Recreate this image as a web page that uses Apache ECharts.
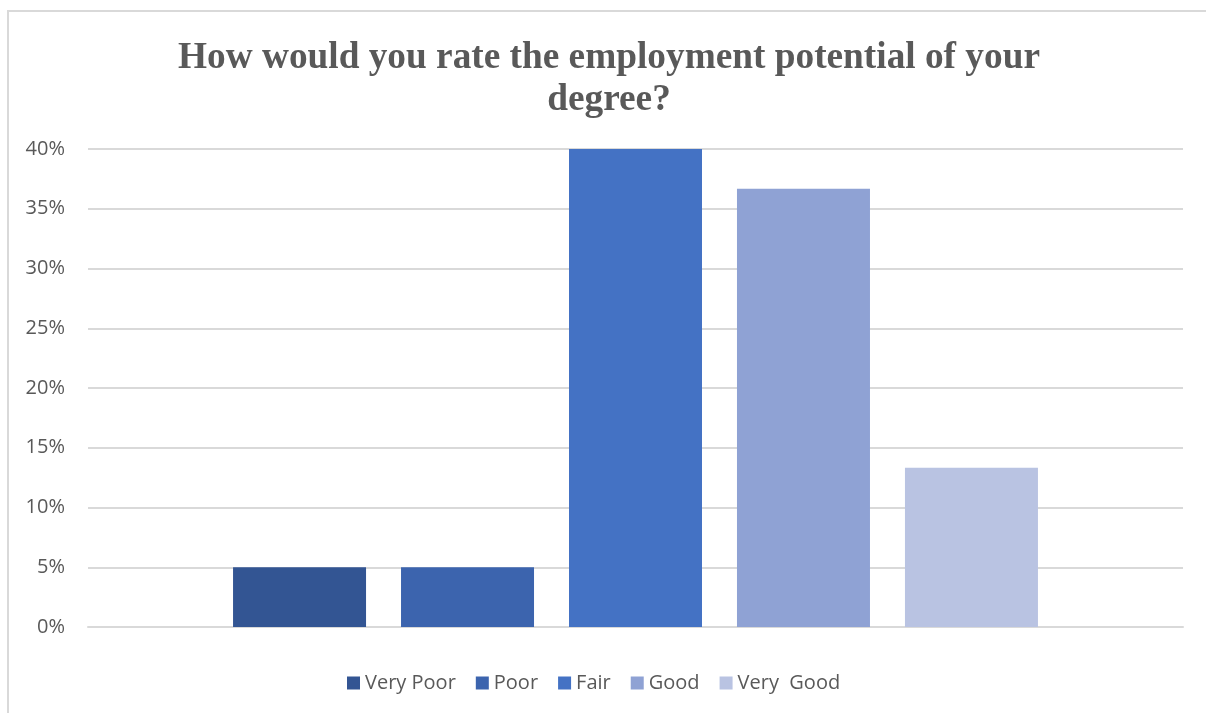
<!DOCTYPE html>
<html>
<head>
<meta charset="utf-8">
<script src="https://cdn.jsdelivr.net/npm/echarts@6/dist/echarts.min.js"></script>
<style>
  html, body { margin: 0; padding: 0; background: #fff; }
  #chart { width: 1206px; height: 713px; }
</style>
</head>
<body>
<div id="chart"></div>
<script>
// Survey responses (share of respondents)
const titleText = 'How would you rate the employment potential of your\ndegree?';
const ratings = ['Very Poor', 'Poor', 'Fair', 'Good', 'Very  Good'];
const shares = [5, 5, 40, 36.67, 13.33];
const colors = ['#335593', '#3C64AE', '#4472C4', '#8FA2D4', '#B9C3E2'];
const yTicks = { min: 0, max: 40, interval: 5 };

const chart = echarts.init(document.getElementById('chart'));

const series = ratings.map((name, i) => ({
  name: name,
  type: 'bar',
  data: [shares[i]],
  barWidth: 133,
  barGap: '26.3%',
  itemStyle: { color: colors[i] }
}));

chart.setOption({
  animation: false,
  color: colors,
  graphic: [{
    type: 'rect',
    shape: { x: 8, y: 11, width: 1210, height: 720 },
    style: { fill: 'none', stroke: '#d9d9d9', lineWidth: 2 },
    silent: true
  }],
  title: {
    text: titleText,
    left: 604,
    top: 32,
    textAlign: 'center',
    textStyle: {
      fontFamily: 'Liberation Serif',
      fontWeight: 'bold',
      fontSize: 37.3,
      lineHeight: 42,
      color: '#595959'
    }
  },
  legend: {
    bottom: 15,
    left: 342,
    itemWidth: 13,
    itemHeight: 13,
    itemGap: 20,
    icon: 'rect',
    textStyle: { fontFamily: 'Open Sans', fontSize: 20, color: '#595959' },
    data: ratings
  },
  grid: { left: 88, right: 23, top: 149, bottom: 86 },
  xAxis: {
    type: 'category',
    data: [''],
    axisLine: { show: true, lineStyle: { color: '#d9d9d9', width: 2 } },
    axisTick: { show: false },
    axisLabel: { show: false }
  },
  yAxis: {
    type: 'value',
    min: yTicks.min,
    max: yTicks.max,
    interval: yTicks.interval,
    axisLine: { show: false },
    axisTick: { show: false },
    splitLine: { lineStyle: { color: '#d9d9d9', width: 2 } },
    axisLabel: {
      formatter: '{value}%',
      margin: 23,
      fontFamily: 'Open Sans',
      fontSize: 20,
      color: '#595959',
      padding: [3, 0, 0, 0]
    }
  },
  series: series
});
</script>
</body>
</html>
